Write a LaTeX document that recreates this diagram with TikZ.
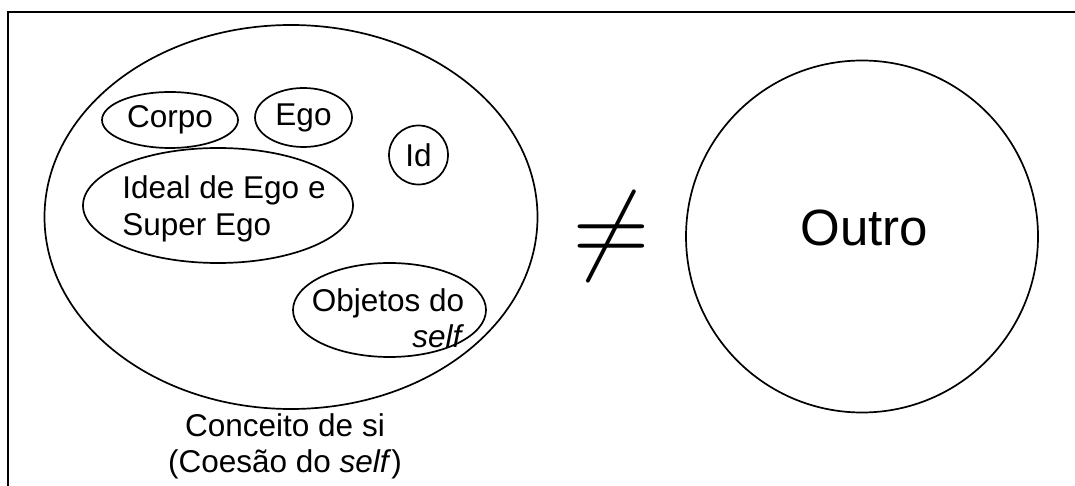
\documentclass[tikz,border=0pt]{standalone}
\usepackage{fontspec}
\usepackage{graphicx}
\setmainfont{Liberation Sans}
\usetikzlibrary{shapes.geometric}
\tikzset{
  ell/.style={draw, ellipse, line width=1.7pt, inner sep=0pt},
  lbl/.style={inner sep=0pt, font=\fontsize{31.5}{36.5}\selectfont},
  frame/.style={line width=1.8pt}
}
\begin{document}
\begin{tikzpicture}[x=1pt,y=-1pt]
\useasboundingbox (0,0) rectangle (1075,486);
\draw[frame] (8,490) -- (8,12) -- (1080,12);
% big ellipse
\node[ell, minimum width=493, minimum height=384] (self) at (291,217) {};
\node[lbl, align=center, anchor=north] (selflbl) at (285,413) {Conceito de si\\(Coesão do \textit{self})};
% inner ellipses
\node[ell, minimum width=136, minimum height=56, lbl, draw] (corpo) at (170,120) {Corpo};
\node[ell, minimum width=97, minimum height=59, lbl, draw] (ego) at (303.5,117.5) {Ego};
\node[ell, circle, minimum size=59, lbl, draw] (id) at (418.5,155) {Id};
\node[ell, minimum width=270, minimum height=115] (ideal) at (218,205.5) {};
\node[lbl, align=left] (idealt) at (224,209) {Ideal de Ego e\\Super Ego};
\node[ell, minimum width=193, minimum height=94] (obj) at (389.5,310) {};
\node[lbl, align=right] (objt) at (388,318) {Objetos do\\\textit{self}};
% not equal
\node[inner sep=0pt] (neq) at (611.5,236) {\scalebox{10}{$\neq$}};
% outro
\node[draw, circle, line width=1.7pt, minimum size=352, inner sep=0pt] (outro) at (862,236.5) {};
\node[inner sep=0pt, font=\fontsize{51}{60}\selectfont] (outrot) at (864.5,228) {Outro};
\end{tikzpicture}
\end{document}
